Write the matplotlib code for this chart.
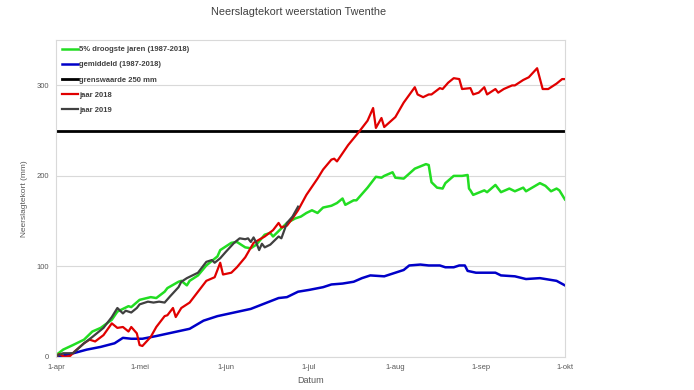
import matplotlib
matplotlib.use("Agg")
import matplotlib.pyplot as plt

plt.rcParams["font.family"] = ["Liberation Sans", "DejaVu Sans"]

# dagen na 1 april en neerslagtekort (mm)
droog_dag = [0, 2.5, 6, 10, 13, 16, 20, 22, 26, 27, 30, 34, 36, 39, 40, 44, 45, 47, 48, 51, 54, 58,
             59, 63, 65, 68, 70, 72, 75, 77, 78, 81, 83, 86, 88, 90, 92, 94, 96, 99, 101, 103, 104,
             107, 108, 112, 115, 117, 118, 121, 122, 125, 129, 133, 134, 135, 137, 139, 140, 143,
             146, 148, 148.5, 149, 150, 154, 155, 158, 160, 163, 165, 168, 169, 174, 176, 178, 180,
             181, 183]
droog_mm = [2, 8, 13, 19, 28, 32, 41, 50, 56, 55, 63, 66, 65, 72, 76, 83, 84, 79, 84, 90, 101, 111,
            118, 126, 127, 121, 120, 124, 135, 137, 133, 142, 148, 153, 155, 159, 162, 159, 165, 167,
            170, 175, 168, 173, 173, 187, 199, 198, 200, 204, 198, 197, 208, 213, 212, 193, 187, 186,
            192, 200, 200, 201, 186, 184, 179, 184, 182, 190, 182, 186, 183, 187, 183, 192, 189, 183,
            186, 184, 174]

gem_dag = [0, 5, 11, 16, 21, 24, 27, 31, 36, 42, 48, 53, 58, 64, 70, 75, 80, 83, 87, 91, 96, 99,
           103, 107, 110, 113, 118, 122, 125, 127, 131, 134, 138, 140, 143, 145, 147, 148, 151,
           154, 158, 160, 165, 169, 174, 176, 180, 183]
gem_mm = [0, 3, 8, 11, 15, 21, 20, 20, 23, 27, 31, 40, 45, 49, 53, 59, 65, 66, 72, 74, 77, 80,
          81, 83, 87, 90, 89, 93, 96, 101, 102, 101, 101, 99, 99, 101, 101, 95, 93, 93, 93, 90,
          89, 86, 87, 86, 84, 79]

jaar2018_dag = [0, 1, 3, 5, 7, 10, 12, 14, 17, 20, 22, 24, 26, 27, 29, 30, 31, 34, 36, 39, 40, 42,
                43, 45, 48, 51, 54, 57, 59, 60, 63, 65, 68, 71, 75, 78, 80, 81, 83, 85, 87, 90,
                94, 96, 99, 100, 101, 105, 109, 112, 114, 115, 117, 118, 122, 125, 129, 130, 132,
                134, 135, 138, 139, 141, 143, 145, 146, 149, 150, 152, 154, 155, 158, 159, 161,
                164, 165, 168, 170, 173, 175, 177, 180, 182, 183]
jaar2018_mm = [0, 3, 0, 1, 7, 15, 19, 17, 24, 37, 32, 33, 28, 33, 26, 13, 12, 22, 33, 45, 46, 54,
               44, 54, 60, 72, 84, 88, 104, 91, 93, 99, 110, 126, 133, 140, 148, 143, 145, 153,
               162, 179, 197, 207, 218, 219, 216, 234, 249, 261, 275, 253, 264, 254, 265, 281,
               298, 290, 287, 290, 290, 297, 296, 303, 308, 307, 296, 297, 290, 292, 298, 290,
               296, 292, 296, 300, 300, 306, 309, 319, 296, 296, 302, 307, 307]

jaar2019_dag = [0, 2.5, 6, 7.5, 10, 13, 17, 20, 22, 24, 25, 27, 29, 30, 33, 35, 37, 39, 41, 44, 45,
                47, 51, 54, 56, 57, 59, 61, 64, 66, 68, 69, 70, 71, 72, 73, 74, 75, 77, 80, 81,
                83, 85, 87]
jaar2019_mm = [1, 4, 4, 8, 15, 22, 32, 44, 54, 48, 51, 49, 54, 58, 61, 60, 61, 60, 67, 77, 83, 87,
               93, 105, 107, 104, 109, 116, 126, 131, 130, 131, 127, 132, 126, 118, 125, 121, 124,
               133, 131, 148, 155, 166]

grens = 250
maand_dag = [0, 30, 61, 91, 122, 153, 183]
maand_labels = ["1-apr", "1-mei", "1-jun", "1-jul", "1-aug", "1-sep", "1-okt"]

fig = plt.figure(figsize=(6.94, 3.90), dpi=100)
ax = fig.add_axes([0.081, 0.085, 0.733, 0.812])

ax.plot(droog_dag, droog_mm, color="#22DD22", lw=1.8, label="5% droogste jaren (1987-2018)")
ax.plot(gem_dag, gem_mm, color="#0000C8", lw=1.8, label="gemiddeld (1987-2018)")
ax.axhline(grens, color="black", lw=2.0, label="grenswaarde 250 mm")
ax.plot(jaar2018_dag, jaar2018_mm, color="#E00000", lw=1.6, label="jaar 2018")
ax.plot(jaar2019_dag, jaar2019_mm, color="#404040", lw=1.6, label="jaar 2019")

ax.set_xlim(0, 183)
ax.set_ylim(0, 350)
ax.set_yticks([0, 100, 200, 300])
ax.set_xticks(maand_dag)
ax.set_xticklabels(maand_labels)
ax.grid(axis="y", color="#D9D9D9", lw=0.8)
ax.set_axisbelow(True)
ax.tick_params(labelsize=5.5, colors="#595959", length=0, pad=5)
for s in ax.spines.values():
    s.set_color("#D9D9D9")
    s.set_linewidth(0.8)

ax.set_xlabel("Datum", fontsize=6.5, color="#595959", labelpad=4)
ax.set_ylabel("Neerslagtekort (mm)", fontsize=6, color="#595959", labelpad=6)
fig.text(0.43, 0.968, "Neerslagtekort weerstation Twenthe", ha="center", va="center",
         fontsize=7.8, color="#404040")

leg = ax.legend(loc="upper left", frameon=False, handlelength=2.1,
                handletextpad=0.1, labelspacing=1.03, borderaxespad=0.35,
                prop={"size": 5.5, "weight": "bold", "family": "Liberation Sans"})
for t in leg.get_texts():
    t.set_color("#404040")

fig.savefig("out.png", dpi=100)
